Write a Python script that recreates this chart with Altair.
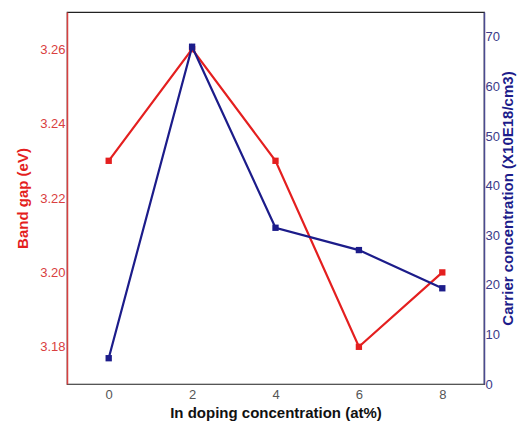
import altair as alt
import pandas as pd

doping = [0, 2, 4, 6, 8]
band_gap = [3.23, 3.26, 3.23, 3.18, 3.20]
carrier = [5.2, 68, 31.5, 27, 19.3]

df = pd.DataFrame({"x": doping, "bg": band_gap, "cc": carrier})

RED = "#e41f1f"
NAVY = "#1c1c8a"
FONT = "Liberation Sans"

xenc = alt.X("x:Q", scale=alt.Scale(domain=[-1, 9], nice=False),
             axis=alt.Axis(values=[0, 2, 4, 6, 8], title="In doping concentration (at%)",
                           grid=False, domainColor="#555555", tickSize=0, labelPadding=4,
                           labelColor="#555555", labelFontSize=13, titleFontSize=15,
                           titleFontWeight="bold", titleColor="#111111", titlePadding=4,
                           labelFont=FONT, titleFont=FONT))

base = alt.Chart(df)

left = base.mark_line(color=RED, strokeWidth=2.2, point=alt.OverlayMarkDef(shape="square", size=40, color=RED, filled=True, opacity=1)).encode(
    x=xenc,
    y=alt.Y("bg:Q", scale=alt.Scale(domain=[3.17, 3.27], nice=False, zero=False),
            axis=alt.Axis(values=[3.18, 3.20, 3.22, 3.24, 3.26], format=".2f",
                          title="Band gap (eV)", orient="left", grid=False,
                          domainColor="#d94040", domainWidth=1.5, tickSize=0, labelPadding=2,
                          labelColor="#d94040", labelFontSize=13, titleColor=RED,
                          titleFontSize=15, titleFontWeight="bold", titlePadding=9,
                          labelFont=FONT, titleFont=FONT)),
)

right = base.mark_line(color=NAVY, strokeWidth=2.2, point=alt.OverlayMarkDef(shape="square", size=40, color=NAVY, filled=True, opacity=1)).encode(
    x=xenc,
    y=alt.Y("cc:Q", scale=alt.Scale(domain=[0, 75], nice=False),
            axis=alt.Axis(values=[0, 10, 20, 30, 40, 50, 60, 70],
                          title="Carrier concentration (X10E18/cm3)", orient="right", grid=False,
                          domainColor="#4a4a90", domainWidth=1.5, tickSize=0, labelPadding=1,
                          labelColor="#3a3a88", labelFontSize=13, titleColor=NAVY,
                          titleFontSize=15, titleFontWeight="bold", titlePadding=1,
                          titleAngle=270, titleBaseline="top", titleLimit=400,
                          labelFont=FONT, titleFont=FONT)),
)

chart = alt.layer(left, right).resolve_scale(y="independent").properties(
    width=417, height=372,
    autosize=alt.AutoSizeParams(type="none"),
    padding={"left": 59, "top": 4, "right": 34, "bottom": 40},
).configure_view(stroke="#222222", strokeWidth=1.2)

chart.save("out.html", embed_options={"renderer": "svg", "actions": False})
